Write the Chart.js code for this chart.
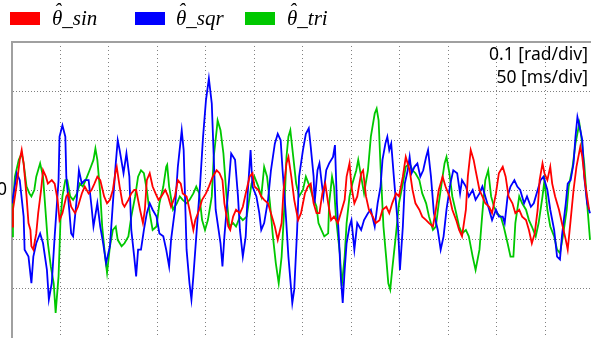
<!DOCTYPE html>
<html>
<head>
<meta charset="utf-8">
<script src="https://cdn.jsdelivr.net/npm/chart.js@4.4.1/dist/chart.umd.min.js"></script>
<style>
  html, body { margin: 0; padding: 0; background: #fff; }
  #wrap { position: relative; width: 591px; height: 338px; overflow: hidden; }
  #c { position: absolute; left: 0; top: 0; }
  .box { position: absolute; top: 12px; width: 30px; height: 13px; }
  .lbl { position: absolute; top: 8px; font: italic 21px/21px "Liberation Serif", serif; color: #000; white-space: nowrap; }
  .th { position: relative; }
  .hat { position: absolute; left: 2px; top: -5px; }
  .note { position: absolute; right: 3px; font: 17.5px/17.5px "Noto Sans", sans-serif; color: #000; white-space: nowrap; }
</style>
</head>
<body>
<div id="wrap">
  <canvas id="c" width="591" height="338"></canvas>
  <div class="box" style="left:10px;background:#ff0000"></div>
  <div class="lbl" style="left:52px"><span class="th">&#x3B8;<span class="hat">&#x2C6;</span></span>_sin</div>
  <div class="box" style="left:135px;background:#0000ff"></div>
  <div class="lbl" style="left:176px"><span class="th">&#x3B8;<span class="hat">&#x2C6;</span></span>_sqr</div>
  <div class="box" style="left:245px;background:#00c800"></div>
  <div class="lbl" style="left:287px"><span class="th">&#x3B8;<span class="hat">&#x2C6;</span></span>_tri</div>
  <div class="note" style="top:45px">0.1 [rad/div]</div>
  <div class="note" style="top:68px">50 [ms/div]</div>
</div>
<script>
// time in ms, angle in rad (0.1 rad/div, 50 ms/div)
const sinT = [
  0, 1, 5, 8, 10, 12, 15, 17, 19, 20,
  22, 25, 27, 30, 32, 35, 37, 41, 44, 47,
  49, 52, 56, 58, 61, 65, 68, 72, 75, 79,
  82, 85, 88, 91, 95, 98, 101, 104, 107, 108,
  111, 114, 116, 120, 123, 126, 128, 132, 135, 137,
  139, 142, 145, 148, 151, 154, 158, 161, 164, 168,
  171, 174, 176, 180, 183, 187, 189, 193, 196, 200,
  203, 207, 211, 214, 217, 219, 223, 225, 228, 231,
  235, 238, 241, 245, 248, 250, 254, 257, 260, 264,
  267, 271, 274, 278, 280, 283, 285, 288, 291, 295,
  298, 302, 305, 308, 311, 314, 317, 320, 323, 326,
  329, 332, 336, 339, 343, 345, 348, 350, 353, 356,
  360, 362, 365, 368, 372, 375, 379, 382, 386, 389,
  392, 396, 399, 403, 406, 410, 413, 416, 420, 423,
  427, 430, 434, 437, 440, 444, 447, 451, 454, 458,
  461, 464, 468, 470, 473, 476, 478, 482, 485, 488,
  492, 495, 499, 502, 506, 509, 512, 516, 519, 523,
  526, 530, 533, 536, 539, 542, 544, 547, 549, 552,
  555, 557, 560, 564, 567, 571, 573, 576, 579, 582,
  586, 588, 591, 595
];
const sinV = [
  -0.074, -0.040, 0.013, 0.061, 0.081, 0.054, -0.013, -0.067, -0.081, -0.114,
  -0.121, -0.088, -0.047, 0, 0.040, 0.027, 0.013, 0.020, 0.013, -0.020,
  -0.061, -0.047, -0.013, -0.007, -0.034, -0.047, -0.034, -0.007, 0.007, -0.007,
  0, 0.013, 0.027, 0.020, -0.013, -0.027, -0.020, 0, 0.040, 0.047,
  0.007, -0.027, -0.034, -0.020, -0.007, 0, 0, -0.040, -0.067, -0.040,
  0.020, 0.034, 0.007, -0.007, -0.020, -0.013, 0, -0.013, -0.034, -0.013,
  0.020, 0.013, -0.007, -0.013, -0.040, -0.081, -0.061, -0.040, -0.020, -0.007,
  0.007, 0.027, 0.040, 0.034, 0.020, -0.027, -0.074, -0.081, -0.054, -0.040,
  -0.047, -0.034, -0.007, 0.027, 0.034, 0.007, 0, -0.013, -0.020, -0.027,
  -0.047, -0.074, -0.101, -0.067, 0, 0.054, 0.067, 0.027, -0.020, -0.061,
  -0.047, -0.007, 0.007, 0.013, -0.027, -0.047, -0.047, -0.007, 0.013, -0.027,
  -0.061, -0.054, -0.067, -0.047, -0.020, 0.027, 0.054, 0.007, -0.027, -0.013,
  0.034, 0.040, -0.013, -0.040, -0.054, -0.067, -0.061, -0.040, -0.034, -0.047,
  -0.027, -0.007, -0.013, 0.027, 0.067, 0.040, 0, -0.027, -0.040, -0.054,
  -0.061, -0.067, -0.074, -0.040, 0, 0.027, 0.007, -0.013, -0.040, -0.061,
  -0.081, -0.094, -0.040, 0.027, 0.081, 0.061, 0.040, 0, -0.013, -0.027,
  -0.034, -0.047, -0.007, 0.034, 0.047, 0.027, -0.013, -0.027, -0.047, -0.040,
  -0.054, -0.061, -0.081, -0.108, -0.088, -0.040, 0.020, 0.054, 0.034, 0.020,
  0.047, 0.013, -0.013, -0.040, -0.067, -0.101, -0.121, -0.061, 0, 0.047,
  0.088, 0.067, 0.013, -0.040
];

const sqrT = [
  0, 5, 8, 12, 13, 17, 20, 22, 25, 29,
  32, 36, 38, 41, 44, 48, 49, 52, 55, 56,
  59, 61, 63, 67, 69, 72, 75, 79, 82, 84,
  88, 91, 94, 97, 101, 104, 107, 109, 111, 115,
  118, 121, 123, 126, 128, 130, 133, 136, 139, 142,
  145, 149, 152, 156, 159, 162, 164, 168, 171, 175,
  177, 180, 183, 185, 187, 190, 194, 197, 200, 203,
  206, 208, 210, 212, 215, 217, 219, 223, 226, 230,
  233, 235, 238, 241, 243, 246, 248, 252, 255, 257,
  260, 264, 267, 271, 274, 277, 279, 282, 285, 289,
  291, 294, 296, 300, 303, 306, 308, 311, 312, 315,
  317, 319, 321, 324, 327, 331, 333, 335, 337, 339,
  341, 343, 345, 348, 350, 353, 356, 360, 363, 367,
  370, 374, 377, 380, 382, 385, 387, 389, 391, 394,
  396, 398, 400, 403, 405, 408, 410, 412, 415, 418,
  421, 424, 427, 429, 432, 435, 439, 442, 445, 448,
  452, 455, 459, 462, 464, 468, 471, 475, 478, 482,
  485, 488, 492, 495, 499, 502, 506, 508, 511, 514,
  518, 521, 524, 528, 531, 535, 538, 542, 545, 548,
  552, 555, 559, 562, 565, 567, 571, 573, 576, 579,
  581, 583, 586, 588, 590, 593, 596
];
const sqrV = [
  -0.027, 0.034, 0.020, -0.054, -0.121, -0.135, -0.189, -0.135, -0.108, -0.088,
  -0.108, -0.162, -0.222, -0.189, -0.094, 0.020, 0.108, 0.131, 0.108, 0.027,
  -0.040, -0.088, -0.094, -0.013, 0.040, 0.013, 0.020, 0.020, -0.034, -0.074,
  -0.027, -0.074, -0.108, -0.148, -0.114, -0.027, 0.054, 0.101, 0.081, 0.034,
  0.074, 0.027, -0.081, -0.135, -0.175, -0.121, -0.121, -0.081, -0.047, -0.027,
  -0.040, -0.054, -0.088, -0.094, -0.121, -0.155, -0.101, -0.040, 0.047, 0.121,
  0.081, -0.121, -0.189, -0.222, -0.175, -0.094, 0.013, 0.108, 0.182, 0.226,
  0.175, 0.067, -0.040, -0.067, -0.108, -0.155, -0.094, 0, 0.074, 0.061,
  -0.013, -0.081, -0.135, -0.094, -0.007, 0.081, 0.007, -0.013, -0.047, -0.081,
  -0.067, -0.020, 0.040, 0.094, 0.114, 0.101, 0.040, -0.040, -0.135, -0.229,
  -0.202, -0.081, 0.027, 0.081, 0.114, 0.125, 0.088, 0.027, -0.027, 0.040,
  0.054, 0.020, -0.013, 0.040, 0.054, 0.067, 0.091, -0.027, -0.094, -0.175,
  -0.229, -0.162, -0.108, -0.074, -0.061, -0.121, -0.067, -0.081, -0.061, -0.047,
  -0.040, -0.074, -0.027, 0.007, 0.061, 0.094, 0.108, 0.081, 0.094, 0.020,
  -0.027, -0.074, -0.162, -0.074, 0.013, 0.040, 0.067, 0.034, 0.047, 0.054,
  0.027, 0.040, 0.067, 0.081, 0.027, -0.047, -0.081, -0.121, -0.094, -0.040,
  0.013, 0.040, 0.034, -0.007, 0.020, 0.007, -0.013, 0, -0.020, -0.007,
  0.007, -0.013, -0.040, -0.061, -0.040, -0.054, -0.054, -0.067, -0.013, 0.007,
  0.020, 0.007, 0, -0.027, -0.013, -0.034, -0.027, 0, 0.020, 0.027,
  0, -0.040, -0.081, -0.135, -0.141, -0.094, -0.027, 0.013, 0.020, 0.054,
  0.108, 0.148, 0.121, 0.101, 0.027, -0.027, -0.047
];

const triT = [
  0, 1, 3, 7, 10, 12, 15, 18, 20, 23,
  25, 29, 32, 35, 37, 40, 43, 45, 48, 50,
  52, 55, 57, 60, 63, 67, 70, 73, 76, 80,
  84, 86, 88, 91, 93, 96, 98, 101, 104, 107,
  109, 113, 116, 120, 123, 127, 130, 133, 136, 139,
  142, 145, 149, 152, 156, 159, 160, 162, 166, 170,
  173, 176, 180, 183, 187, 190, 193, 196, 199, 202,
  206, 208, 211, 212, 215, 218, 221, 224, 228, 231,
  235, 238, 242, 244, 247, 250, 254, 257, 260, 263,
  266, 269, 272, 275, 278, 281, 283, 285, 287, 290,
  293, 296, 300, 303, 307, 310, 314, 316, 319, 322,
  326, 327, 330, 332, 334, 338, 340, 343, 345, 348,
  351, 355, 357, 360, 363, 367, 370, 374, 376, 378,
  380, 383, 386, 388, 390, 392, 396, 399, 403, 406,
  410, 413, 416, 420, 423, 427, 430, 434, 437, 440,
  444, 446, 448, 451, 454, 458, 461, 464, 468, 471,
  475, 478, 482, 485, 488, 491, 494, 497, 500, 504,
  507, 511, 514, 517, 519, 523, 526, 530, 533, 536,
  540, 543, 547, 549, 552, 555, 559, 562, 565, 568,
  572, 574, 578, 581, 585, 587, 590, 593, 596
];
const triV = [
  -0.094, -0.027, 0.027, 0.061, 0.074, 0.054, 0.007, -0.007, -0.013, 0,
  0.027, 0.054, 0.027, -0.054, -0.108, -0.155, -0.189, -0.249, -0.175, -0.061,
  -0.013, 0.020, 0.020, -0.013, -0.020, -0.007, 0.013, 0.007, 0.020, 0.040,
  0.061, 0.084, 0.061, -0.007, -0.074, -0.135, -0.168, -0.114, -0.081, -0.074,
  -0.101, -0.114, -0.108, -0.094, -0.054, -0.013, 0.027, 0.040, 0.034, 0,
  -0.047, -0.081, -0.074, -0.027, 0.007, 0.047, 0.051, 0.007, -0.040, -0.027,
  -0.013, -0.020, -0.027, -0.020, -0.007, 0.007, -0.007, -0.061, -0.081, -0.061,
  -0.013, 0.067, 0.121, 0.141, 0.121, 0.074, -0.007, -0.074, -0.067, -0.074,
  -0.054, -0.061, -0.054, -0.027, 0.013, 0.027, 0.007, -0.013, 0.047, 0.027,
  -0.027, -0.094, -0.148, -0.189, -0.135, -0.027, 0.067, 0.108, 0.121, 0.067,
  0.013, -0.013, 0, 0.027, 0.007, -0.013, -0.034, -0.067, -0.081, -0.094,
  -0.088, -0.027, 0.027, 0.007, -0.054, -0.128, -0.195, -0.135, -0.067, -0.013,
  0.013, 0.040, 0.061, 0.027, -0.007, 0.040, 0.108, 0.155, 0.165, 0.141,
  0.047, -0.074, -0.141, -0.189, -0.202, -0.162, -0.088, -0.027, 0.013, 0.047,
  0.054, 0.040, 0.034, 0.020, -0.007, -0.027, -0.054, -0.081, -0.074, -0.027,
  0.027, 0.054, 0.067, 0.034, -0.013, -0.047, -0.074, -0.088, -0.081, -0.094,
  -0.135, -0.162, -0.121, -0.047, 0.020, 0.040, -0.013, -0.034, -0.047, -0.054,
  -0.074, -0.108, -0.135, -0.135, -0.067, -0.013, -0.027, -0.040, -0.061, -0.074,
  -0.094, -0.067, -0.013, 0.020, -0.040, -0.074, -0.094, -0.121, -0.128, -0.094,
  -0.040, 0.007, 0.047, 0.094, 0.135, 0.108, 0.054, -0.027, -0.101
];

const seriesNames = ["\u03B8\u0302_sin", "\u03B8\u0302_sqr", "\u03B8\u0302_tri"];
const timeMax = 597;

function toPoints(ts, vs) {
  return ts.map((t, i) => ({ x: t, y: vs[i] }));
}

function traceSet(label, ts, vs, color) {
  return { label, data: toPoints(ts, vs), borderColor: color, backgroundColor: color, borderWidth: 1.8, pointRadius: 0, tension: 0, fill: false };
}

new Chart(document.getElementById("c"), {
  type: "line",
  data: {
    datasets: [
      traceSet(seriesNames[0], sinT, sinV, "#ff0000"),
      traceSet(seriesNames[1], sqrT, sqrV, "#0000ff"),
      traceSet(seriesNames[2], triT, triV, "#00c800")
    ]
  },
  options: {
    responsive: false,
    animation: false,
    devicePixelRatio: 1,
    layout: { padding: { top: 42, left: 0, right: 0, bottom: 0 } },
    plugins: { legend: { display: false }, tooltip: { enabled: false } },
    scales: {
      x: {
        type: "linear", min: 0, max: timeMax,
        ticks: { display: false, stepSize: 50 },
        grid: { color: "#808080", lineWidth: 1, drawTicks: false },
        border: { display: false, dash: [1, 3] },
        afterFit: (s) => { s.height = 0; s.paddingLeft = 0; s.paddingRight = 0; }
      },
      xTop: {
        type: "linear", axis: "x", position: "top", min: 0, max: timeMax,
        ticks: { display: false },
        grid: { display: false, drawTicks: false },
        border: { display: true, color: "#a0a0a0", width: 2 },
        afterFit: (s) => { s.height = 0; s.paddingLeft = 0; s.paddingRight = 0; }
      },
      y: {
        min: -0.3, max: 0.3,
        ticks: {
          stepSize: 0.1, padding: 5, color: "#000",
          font: { family: "Noto Sans", size: 17.5 },
          callback: (v) => (Math.abs(v) < 1e-9 ? "0" : "")
        },
        grid: { color: "#808080", lineWidth: 1, drawTicks: false },
        border: { display: true, color: "#a0a0a0", width: 2, dash: [1, 2] },
        afterFit: (s) => { s.width = 12; s.paddingTop = 0; s.paddingBottom = 0; }
      }
    }
  }
});
</script>
</body>
</html>
